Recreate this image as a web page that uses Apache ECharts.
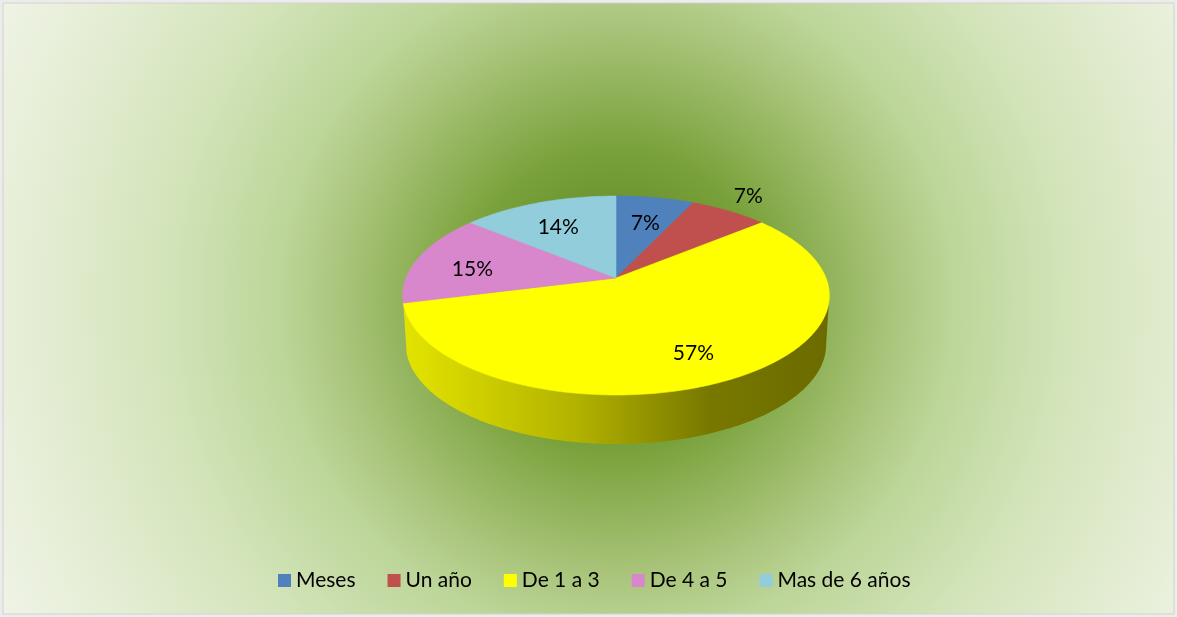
<!DOCTYPE html>
<html>
<head>
<meta charset="utf-8" />
<script src="https://cdn.jsdelivr.net/npm/echarts@6/dist/echarts.min.js"></script>
<style>
  html, body { margin: 0; padding: 0; background: #ffffff; }
  #chart { width: 1177px; height: 617px; }
</style>
</head>
<body>
<div id="chart"></div>
<script>
// chart data
const categories = ["Meses", "Un año", "De 1 a 3", "De 4 a 5", "Mas de 6 años"];
const values = [7, 7, 57, 15, 14];
const colors = ["#4f81bd", "#c0504d", "#ffff00", "#d987cc", "#92cddc"];
const labelOutside = [false, true, false, false, false];

const total = values.reduce((a, b) => a + b, 0);
const startAngles = [];
values.reduce((acc, v) => {
  startAngles.push(acc);
  return acc + (v / total) * 360;
}, 0);

// 3d pie geometry (perspective tilt)
const CX = 616, CY = 278, RX = 210, RY = 96.4, K = 0.176, DEPTH = 49;
const FONT = "Lato, 'Open Sans', sans-serif";

function proj(deg, f) {
  var t = (deg * Math.PI) / 180;
  var s = 1 / (1 + K * f * Math.cos(t));
  return [CX + RX * f * Math.sin(t) * s, CY - RY * f * Math.cos(t) * s];
}
function rim(a0, a1) {
  var pts = [];
  for (var a = a0; a < a1; a += 1) pts.push(proj(a, 1));
  pts.push(proj(a1, 1));
  return pts;
}
function darken(c, k) {
  var arr = echarts.color.parse(c);
  return "rgb(" + [0, 1, 2].map((j) => Math.round(arr[j] * k)).join(",") + ")";
}
// visible part of the side wall
const wallFrom = (Math.acos(-K) * 180) / Math.PI;
const wallTo = 360 - wallFrom;

function faceItem(i) {
  return function (params, api) {
    var a0 = startAngles[i];
    var a1 = a0 + (values[i] / total) * 360;
    var pts = [proj(0, 0)].concat(rim(a0, a1));
    var c = api.visual("color");
    return {
      type: "polygon",
      shape: { points: pts },
      style: { fill: c, stroke: c, lineWidth: 0.6 },
    };
  };
}

function wallItem(params, api) {
  var i = params.dataIndex;
  var a0 = Math.max(startAngles[i], wallFrom);
  var a1 = Math.min(startAngles[i] + (values[i] / total) * 360, wallTo);
  if (a1 <= a0) return null;
  var top = rim(a0, a1);
  var bottom = top
    .map((p) => [CX + (p[0] - CX) * 0.985, p[1] + DEPTH])
    .reverse();
  var c = colors[i];
  return {
    type: "polygon",
    shape: { points: top.concat(bottom) },
    style: {
      fill: {
        type: "linear",
        x: CX - RX, y: 0, x2: CX + RX, y2: 0,
        global: true,
        colorStops: [
          { offset: 0, color: darken(c, 0.89) },
          { offset: 0.4, color: darken(c, 0.7) },
          { offset: 0.72, color: darken(c, 0.47) },
          { offset: 1, color: darken(c, 0.42) },
        ],
      },
      lineWidth: 0,
    },
  };
}

function labelItem(params, api) {
  var i = params.dataIndex;
  var mid = startAngles[i] + (values[i] / total) * 180;
  var p = labelOutside[i] ? proj(mid, 1.2) : proj(mid, 0.72);
  return {
    type: "text",
    style: {
      x: p[0],
      y: p[1] + (labelOutside[i] ? -3 : 6),
      text: Math.round((values[i] / total) * 100) + "%",
      fill: "#000000",
      font: "21px " + FONT,
      align: "center",
      verticalAlign: "middle",
    },
  };
}

var seriesList = [
  {
    type: "custom",
    name: "wall",
    coordinateSystem: "none",
    silent: true,
    z: 2,
    data: values,
    renderItem: wallItem,
  },
];
categories.forEach((name, i) => {
  seriesList.push({
    type: "custom",
    name: name,
    coordinateSystem: "none",
    z: 3,
    itemStyle: { color: colors[i] },
    data: [values[i]],
    renderItem: faceItem(i),
  });
});
seriesList.push({
  type: "custom",
  name: "labels",
  coordinateSystem: "none",
  silent: true,
  z: 4,
  data: values,
  renderItem: labelItem,
});

var myChart = echarts.init(document.getElementById("chart"));
var option = {
  animation: false,
  backgroundColor: "#ececec",
  graphic: [
    {
      type: "rect",
      z: -10,
      silent: true,
      shape: { x: 3, y: 3, width: 1171, height: 611 },
      style: {
        stroke: "#d2d2d2",
        lineWidth: 1,
        fill: {
          type: "radial",
          x: 616, y: 300, r: 700,
          global: true,
          colorStops: [
            { offset: 0, color: "#628826" },
            { offset: 0.14, color: "#6c9430" },
            { offset: 0.22, color: "#7aa23c" },
            { offset: 0.39, color: "#a9c47a" },
            { offset: 0.48, color: "#bcd598" },
            { offset: 0.65, color: "#d3e4ba" },
            { offset: 0.85, color: "#e6eed6" },
            { offset: 1, color: "#f0f4e8" },
          ],
        },
      },
    },
  ],
  legend: {
    data: categories,
    left: 273,
    top: 565,
    icon: "rect",
    itemWidth: 13,
    itemHeight: 13,
    itemGap: 32,
    selectedMode: false,
    textStyle: { fontSize: 21, fontFamily: FONT, color: "#000000" },
  },
  series: seriesList,
};
myChart.setOption(option);
</script>
</body>
</html>
